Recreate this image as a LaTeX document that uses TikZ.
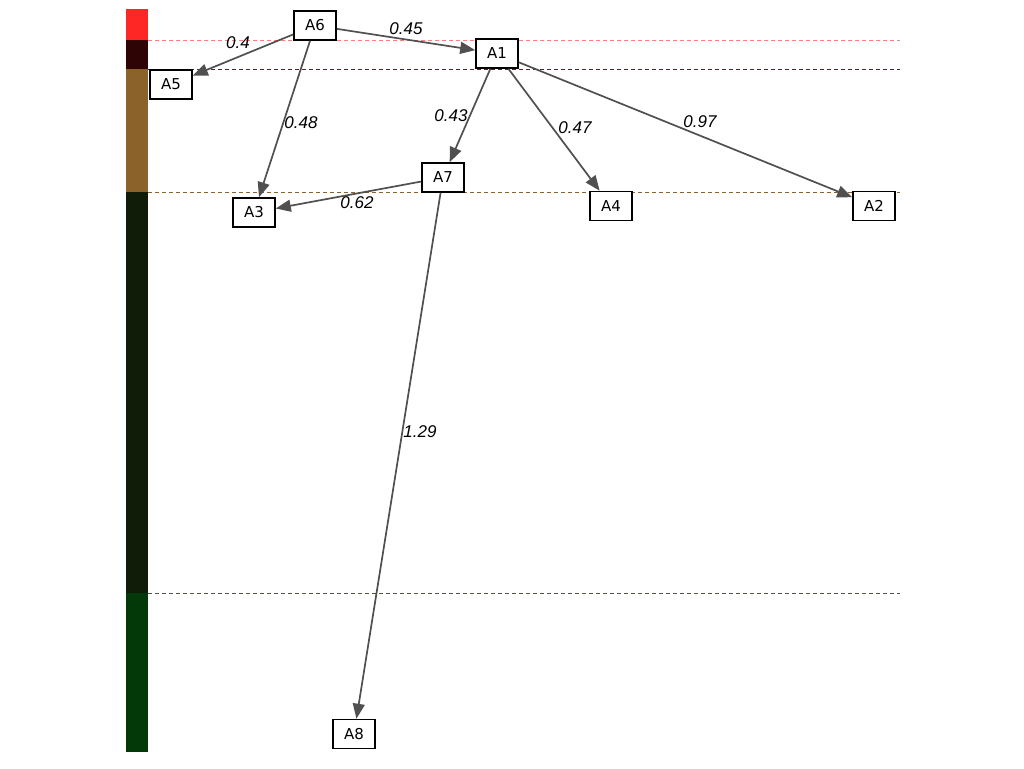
\documentclass[tikz,border=0pt]{standalone}
\usepackage{fontspec}
\setmainfont{DejaVu Sans}
\newfontfamily\labfont{Liberation Sans}
\usetikzlibrary{arrows.meta}
\definecolor{cRed}{RGB}{255,38,38}
\definecolor{cMaroon}{RGB}{46,4,4}
\definecolor{cBrown}{RGB}{139,98,42}
\definecolor{cDark}{RGB}{17,28,8}
\definecolor{cGreen}{RGB}{3,56,8}
\definecolor{cEdge}{RGB}{80,80,80}
\tikzset{
  box/.style={draw=black, line width=1.6pt, fill=white, minimum width=42pt, minimum height=29pt, inner sep=0pt, font=\fontsize{15}{15}\selectfont},
  arr/.style={draw=cEdge, line width=1.7pt, -{Triangle[length=15pt,width=12pt]}},
  lab/.style={font=\labfont\itshape\fontsize{17}{17}\selectfont, inner sep=0pt},
  band/.style={line width=0.9pt, dash pattern=on 4pt off 3pt}
}
\begin{document}
\begin{tikzpicture}[x=1pt,y=-1pt]
\useasboundingbox (0,0) rectangle (1024,768);
% colour bar
\fill[cRed] (126,9) rectangle (148,40);
\fill[cMaroon] (126,40) rectangle (148,69);
\fill[cBrown] (126,69) rectangle (148,192);
\fill[cDark] (126,192) rectangle (148,593);
\fill[cGreen] (126,593) rectangle (148,752);
% band lines
\draw[band, draw=cRed!60] (148,40) -- (900,40);
\draw[band, draw=cMaroon!85] (148,69) -- (900,69);
\draw[band, draw=cBrown] (148,192) -- (900,192);
\draw[band, draw=cDark!75] (148,593) -- (900,593);
% nodes
\node[box] (A6) at (315,25.5) {A6};
\node[box] (A1) at (497,53.5) {A1};
\node[box] (A5) at (171,84.5) {A5};
\node[box] (A7) at (443,177.5) {A7};
\node[box] (A3) at (254,212.5) {A3};
\node[box] (A4) at (611,206) {A4};
\node[box] (A2) at (874,206) {A2};
\node[box] (A8) at (354,734) {A8};
% edges
\draw[arr] (A6) -- (A5);
\draw[arr] (A6) -- (A1);
\draw[arr] (A6) -- (A3);
\draw[arr] (A1) -- (A7);
\draw[arr] (A1) -- (A4);
\draw[arr] (A1) -- (A2);
\draw[arr] (A7) -- (A3);
\draw[arr] (A7) -- (A8);
% edge labels
\node[lab] (l65) at (238,43) {0.4};
\node[lab] (l61) at (406,29) {0.45};
\node[lab] (l63) at (301,123) {0.48};
\node[lab] (l17) at (451,116) {0.43};
\node[lab] (l14) at (575,128) {0.47};
\node[lab] (l12) at (700,122) {0.97};
\node[lab] (l73) at (357,203) {0.62};
\node[lab] (l78) at (420,432) {1.29};
\end{tikzpicture}
\end{document}
